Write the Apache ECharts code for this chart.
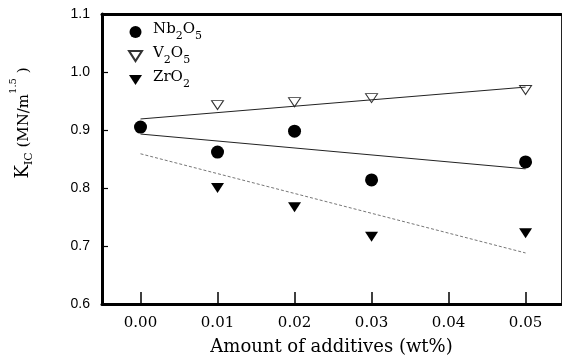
<!DOCTYPE html>
<html>
<head>
<meta charset="utf-8">
<script src="https://cdn.jsdelivr.net/npm/echarts@6/dist/echarts.min.js"></script>
<style>html,body{margin:0;padding:0;background:#fff}#c{width:562px;height:362px}</style>
</head>
<body>
<div id="c"></div>
<script>
// ---- data ----
var xValues = [0.00, 0.01, 0.02, 0.03, 0.05];
var nb2o5 = [0.905, 0.862, 0.898, 0.814, 0.845];
var v2o5 = [null, 0.943, 0.948, 0.955, 0.969];
var zro2 = [null, 0.800, 0.767, 0.716, 0.722];
// fitted trend lines (end points)
var fitX = [0.00, 0.05];
var nbFit = [0.893, 0.833];
var vFit = [0.919, 0.974];
var zrFit = [0.859, 0.688];
var xTicks = [0.00, 0.01, 0.02, 0.03, 0.04, 0.05];

function pairs(xs, ys) {
  var out = [];
  for (var i = 0; i < xs.length; i++) if (ys[i] != null) out.push([xs[i], ys[i]]);
  return out;
}

var tri = 'path://M0,0 L14,0 L7,11 Z';
var serif = 'DejaVu Serif';
var rich = {
  b: { fontFamily: serif, fontSize: 15, color: '#000', lineHeight: 20, verticalAlign: 'top' },
  s: { fontFamily: serif, fontSize: 11, color: '#000', lineHeight: 20, verticalAlign: 'bottom' }
};
var legendText = {
  'Nb2O5': '{b|Nb}{s|2}{b|O}{s|5}',
  'V2O5': '{b|V}{s|2}{b|O}{s|5}',
  'ZrO2': '{b|ZrO}{s|2}'
};

var chart = echarts.init(document.getElementById('c'), null, { renderer: 'canvas' });
chart.setOption({
  animation: false,
  backgroundColor: '#fff',
  grid: { left: 100, right: 1, top: 14, bottom: 58 },
  legend: {
    orient: 'vertical',
    left: 128,
    top: 22,
    padding: 0,
    itemGap: 4,
    itemWidth: 13,
    itemHeight: 12,
    selectedMode: false,
    data: ['Nb2O5', 'V2O5', 'ZrO2'],
    formatter: function (n) { return legendText[n]; },
    textStyle: { rich: rich, padding: [0, 0, 0, 6] }
  },
  xAxis: [{
    type: 'value',
    min: -0.005,
    max: 0.0546,
    splitLine: { show: false },
    axisLine: { show: true, onZero: false, lineStyle: { color: '#000', width: 3 } },
    axisTick: { show: true, inside: true, length: 12, customValues: xTicks, lineStyle: { color: '#000', width: 1.5 } },
    axisLabel: {
      customValues: xTicks,
      margin: 12,
      fontFamily: serif, fontSize: 15, color: '#000',
      formatter: function (v) { return v.toFixed(2); }
    },
    name: 'Amount of additives (wt%)',
    nameLocation: 'middle',
    nameGap: 34,
    nameTextStyle: { fontFamily: serif, fontSize: 18, color: '#000' }
  }, {
    type: 'value',
    position: 'top',
    min: -0.005,
    max: 0.0546,
    splitLine: { show: false },
    axisLine: { show: true, onZero: false, lineStyle: { color: '#000', width: 3 } },
    axisTick: { show: false },
    axisLabel: { show: false }
  }],
  yAxis: [{
    type: 'value',
    min: 0.6,
    max: 1.1,
    interval: 0.1,
    splitLine: { show: false },
    axisLine: { show: true, onZero: false, lineStyle: { color: '#000', width: 3 } },
    axisTick: { show: true, inside: true, length: 6, lineStyle: { color: '#000', width: 1.2 } },
    axisLabel: {
      margin: 12,
      fontFamily: 'Liberation Sans', fontSize: 14, color: '#000',
      formatter: function (v) { return v.toFixed(1); }
    },
    name: '{k|K}{i|IC}{p| (MN/m}{e|1.5}{p| )}',
    nameLocation: 'middle',
    nameGap: 70,
    nameRotate: 90,
    nameTextStyle: {
      padding: [0, 0, 0, 72],
      rich: {
        k: { fontFamily: serif, fontSize: 18, color: '#000', lineHeight: 24, verticalAlign: 'bottom' },
        i: { fontFamily: serif, fontSize: 11, color: '#000', lineHeight: 24, verticalAlign: 'bottom', padding: [0, 0, -3, 0] },
        p: { fontFamily: serif, fontSize: 15, color: '#000', lineHeight: 24, verticalAlign: 'bottom' },
        e: { fontFamily: serif, fontSize: 10, color: '#000', lineHeight: 24, verticalAlign: 'top' }
      }
    }
  }, {
    type: 'value',
    position: 'right',
    min: 0.6,
    max: 1.1,
    interval: 0.1,
    splitLine: { show: false },
    axisLine: { show: true, onZero: false, lineStyle: { color: '#222', width: 1 } },
    axisTick: { show: false },
    axisLabel: { show: false }
  }],
  series: [
    {
      name: 'Nb2O5fit', type: 'line', data: pairs(fitX, nbFit), symbol: 'none',
      lineStyle: { color: '#222', width: 1 }, silent: true
    },
    {
      name: 'V2O5fit', type: 'line', data: pairs(fitX, vFit), symbol: 'none',
      lineStyle: { color: '#222', width: 1 }, silent: true
    },
    {
      name: 'ZrO2fit', type: 'line', data: pairs(fitX, zrFit), symbol: 'none',
      lineStyle: { color: '#777', width: 1, type: [3, 2] }, silent: true
    },
    {
      name: 'Nb2O5', type: 'scatter', data: pairs(xValues, nb2o5),
      symbol: 'circle', symbolSize: 13,
      itemStyle: { color: '#000', opacity: 1 }
    },
    {
      name: 'V2O5', type: 'scatter', data: pairs(xValues, v2o5),
      symbol: tri, symbolSize: [12, 9],
      itemStyle: { color: '#fff', borderColor: '#333', borderWidth: 1, opacity: 1 }
    },
    {
      name: 'ZrO2', type: 'scatter', data: pairs(xValues, zro2),
      symbol: tri, symbolSize: [13, 10],
      itemStyle: { color: '#000', opacity: 1 }
    }
  ]
});
</script>
</body>
</html>
